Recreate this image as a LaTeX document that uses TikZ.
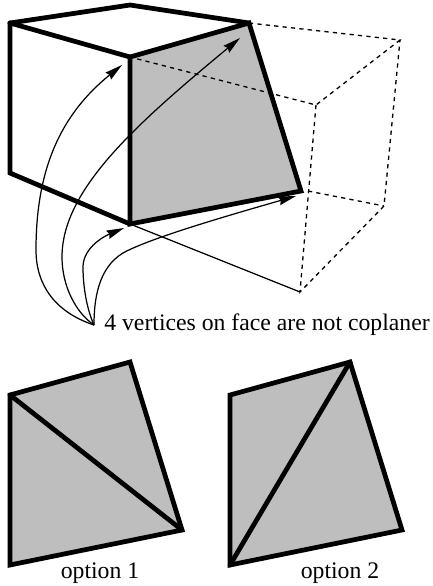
\documentclass[tikz,border=0pt]{standalone}
\usepackage{fontspec}
\setmainfont{Liberation Serif}
\usetikzlibrary{arrows.meta}
\definecolor{faceGrey}{HTML}{BEBEBE}
\tikzset{
  thickedge/.style={line width=2.7pt, line join=miter, line cap=round},
  hiddenedge/.style={line width=0.75pt, dash pattern=on 2.4pt off 2.4pt},
  thinedge/.style={line width=0.7pt},
  pointer/.style={line width=0.7pt, -{Stealth[length=10pt, width=5pt, inset=1pt]}},
  caption/.style={font=\fontsize{13.5}{16}\selectfont, inner sep=0pt}
}
\begin{document}
\begin{tikzpicture}[x=0.02cm, y=-0.02cm]
    \useasboundingbox (0,0) rectangle (433,586);
    % cube corners
    \coordinate (tl) at (10,23);
    \coordinate (tt) at (130,5);
    \coordinate (tr) at (249,23);
    \coordinate (mid) at (130,57);
    \coordinate (bl) at (10,173);
    \coordinate (bot) at (130,224);
    \coordinate (rgt) at (301,191);
    % far side of the cube
    \coordinate (farT) at (400,40);
    \coordinate (farM) at (316,105);
    \coordinate (farR) at (308,191);
    \coordinate (farK) at (384,206);
    \coordinate (farB) at (300,292);
    % arrow ends
    \coordinate (src) at (94,325);
    \coordinate (toMid) at (122,65);
    \coordinate (toTr) at (240,38);
    \coordinate (toBot) at (124,228);
    \coordinate (toRgt) at (296,196);
    % dotted cube
    \fill[faceGrey] (mid) -- (tr) -- (rgt) -- (bot) -- cycle;
    \draw[hiddenedge] (tr) -- (farT) -- (farM) -- (mid);
    \draw[hiddenedge] (farM) -- (farB) -- (farK) -- (farT);
    \draw[hiddenedge] (farR) -- (farK);
    \draw[thinedge] (bot) -- (farB);
    % heavy edges
    \draw[thickedge] (mid) -- (tr) -- (rgt) -- (bot) -- cycle;
    \draw[thickedge] (tl) -- (tt) -- (tr);
    \draw[thickedge] (tl) -- (mid);
    \draw[thickedge] (tl) -- (bl) -- (bot);
    % pointers
    \draw[pointer] (src) .. controls (55,312) and (36,285) .. (36,250)
      .. controls (36,170) and (60,115) .. (toMid);
    \draw[pointer] (src) .. controls (75,312) and (62,285) .. (62,257)
      .. controls (62,190) and (135,125) .. (toTr);
    \draw[pointer] (src) .. controls (88,312) and (83,290) .. (83,267)
      .. controls (83,250) and (100,238) .. (toBot);
    \draw[pointer] (src) .. controls (94,300) and (98,268) .. (123,253)
      .. controls (150,238) and (230,215) .. (toRgt);
    \node[caption, anchor=base west] (note) at (104,330) {4 vertices on face are not coplaner};
    % option 1
    \coordinate (aTl) at (10,395);
    \coordinate (aTr) at (130,362);
    \coordinate (aR) at (182,530);
    \coordinate (aB) at (10,565);
    \draw[thickedge, fill=faceGrey] (aTl) -- (aTr) -- (aR) -- (aB) -- cycle;
    \draw[thickedge] (aTl) -- (aR);
    \node[caption, anchor=base] (optA) at (100,578) {option 1};
    % option 2
    \coordinate (bTl) at (230,395);
    \coordinate (bTr) at (350,362);
    \coordinate (bR) at (402,530);
    \coordinate (bB) at (230,565);
    \draw[thickedge, fill=faceGrey] (bTl) -- (bTr) -- (bR) -- (bB) -- cycle;
    \draw[thickedge] (bB) -- (bTr);
    \node[caption, anchor=base] (optB) at (340,578) {option 2};
\end{tikzpicture}
\end{document}
